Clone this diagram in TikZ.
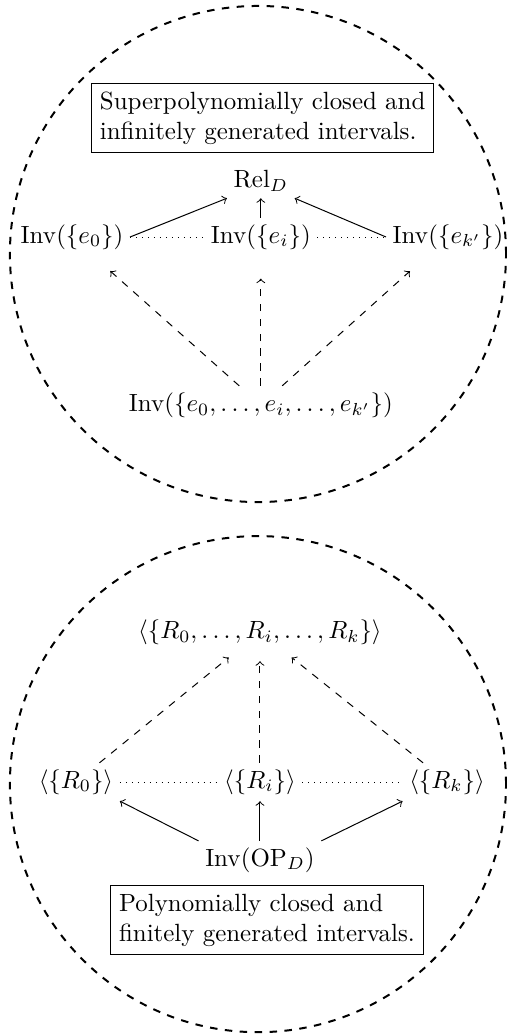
\documentclass[tikz,border=0pt]{standalone}
\usepackage{amsmath,amssymb}
\usepackage{tikz}

\begin{document}
\begin{tikzpicture}[every node/.style={inner sep=2.5pt},
    region/.style={draw, thick, dashed},
    note/.style={draw, align=left, inner sep=3.33pt},
    strong/.style={->},
    weak/.style={->, dashed, shorten >=#1},
    chain/.style={dotted}]
  \useasboundingbox (-3.640,-11.034) rectangle (3.513,3.584);

  % upper region
  \draw[region] (0,0) circle (3.5cm);
  \node[note] (supbox) at (0.066,1.915)
    {Superpolynomially closed and\\infinitely generated intervals.};
  \node (rel) at (0.04,1.03) {$\mathrm{Rel}_D$};
  \node (e0) at (-2.624,0.24) {$\mathrm{Inv}(\{e_0\})$};
  \node (ei) at (0.04,0.24) {$\mathrm{Inv}(\{e_i\})$};
  \node (ek) at (2.681,0.24) {$\mathrm{Inv}(\{e_{k'}\})$};
  \node (all) at (0.04,-2.131) {$\mathrm{Inv}(\{e_0,\dots,e_i,\dots,e_{k'}\})$};

  \draw[strong] (e0.east) -- (rel.south west);
  \draw[strong] (ei) -- (rel);
  \draw[strong] (ek.west) -- (rel.south east);
  \draw[chain] (e0) -- (ei);
  \draw[chain] (ei) -- (ek);
  \draw[weak=9pt] (all) -- (e0);
  \draw[weak=9pt] (all) -- (ei);
  \draw[weak=9pt] (all) -- (ek);

  % lower region
  \draw[region] (0,-7.48) circle (3.5cm);
  \node (gen) at (0.028,-5.334) {$\langle\{R_0,\dots,R_i,\dots,R_k\}\rangle$};
  \node (r0) at (-2.568,-7.45) {$\langle\{R_0\}\rangle$};
  \node (ri) at (0.028,-7.45) {$\langle\{R_i\}\rangle$};
  \node (rk) at (2.667,-7.45) {$\langle\{R_k\}\rangle$};
  \node (op) at (0.028,-8.551) {$\mathrm{Inv}(\mathrm{OP}_D)$};
  \node[note] (polbox) at (0.127,-9.397)
    {Polynomially closed and\\finitely generated intervals.};

  \draw[strong] (op.north west) -- (r0.south east);
  \draw[strong] (op) -- (ri);
  \draw[strong] (op.north east) -- (rk.south west);
  \draw[chain] (r0) -- (ri);
  \draw[chain] (ri) -- (rk);
  \draw[weak=4pt] (r0) -- (gen);
  \draw[weak=4pt] (ri) -- (gen);
  \draw[weak=4pt] (rk) -- (gen);
\end{tikzpicture}
\end{document}
